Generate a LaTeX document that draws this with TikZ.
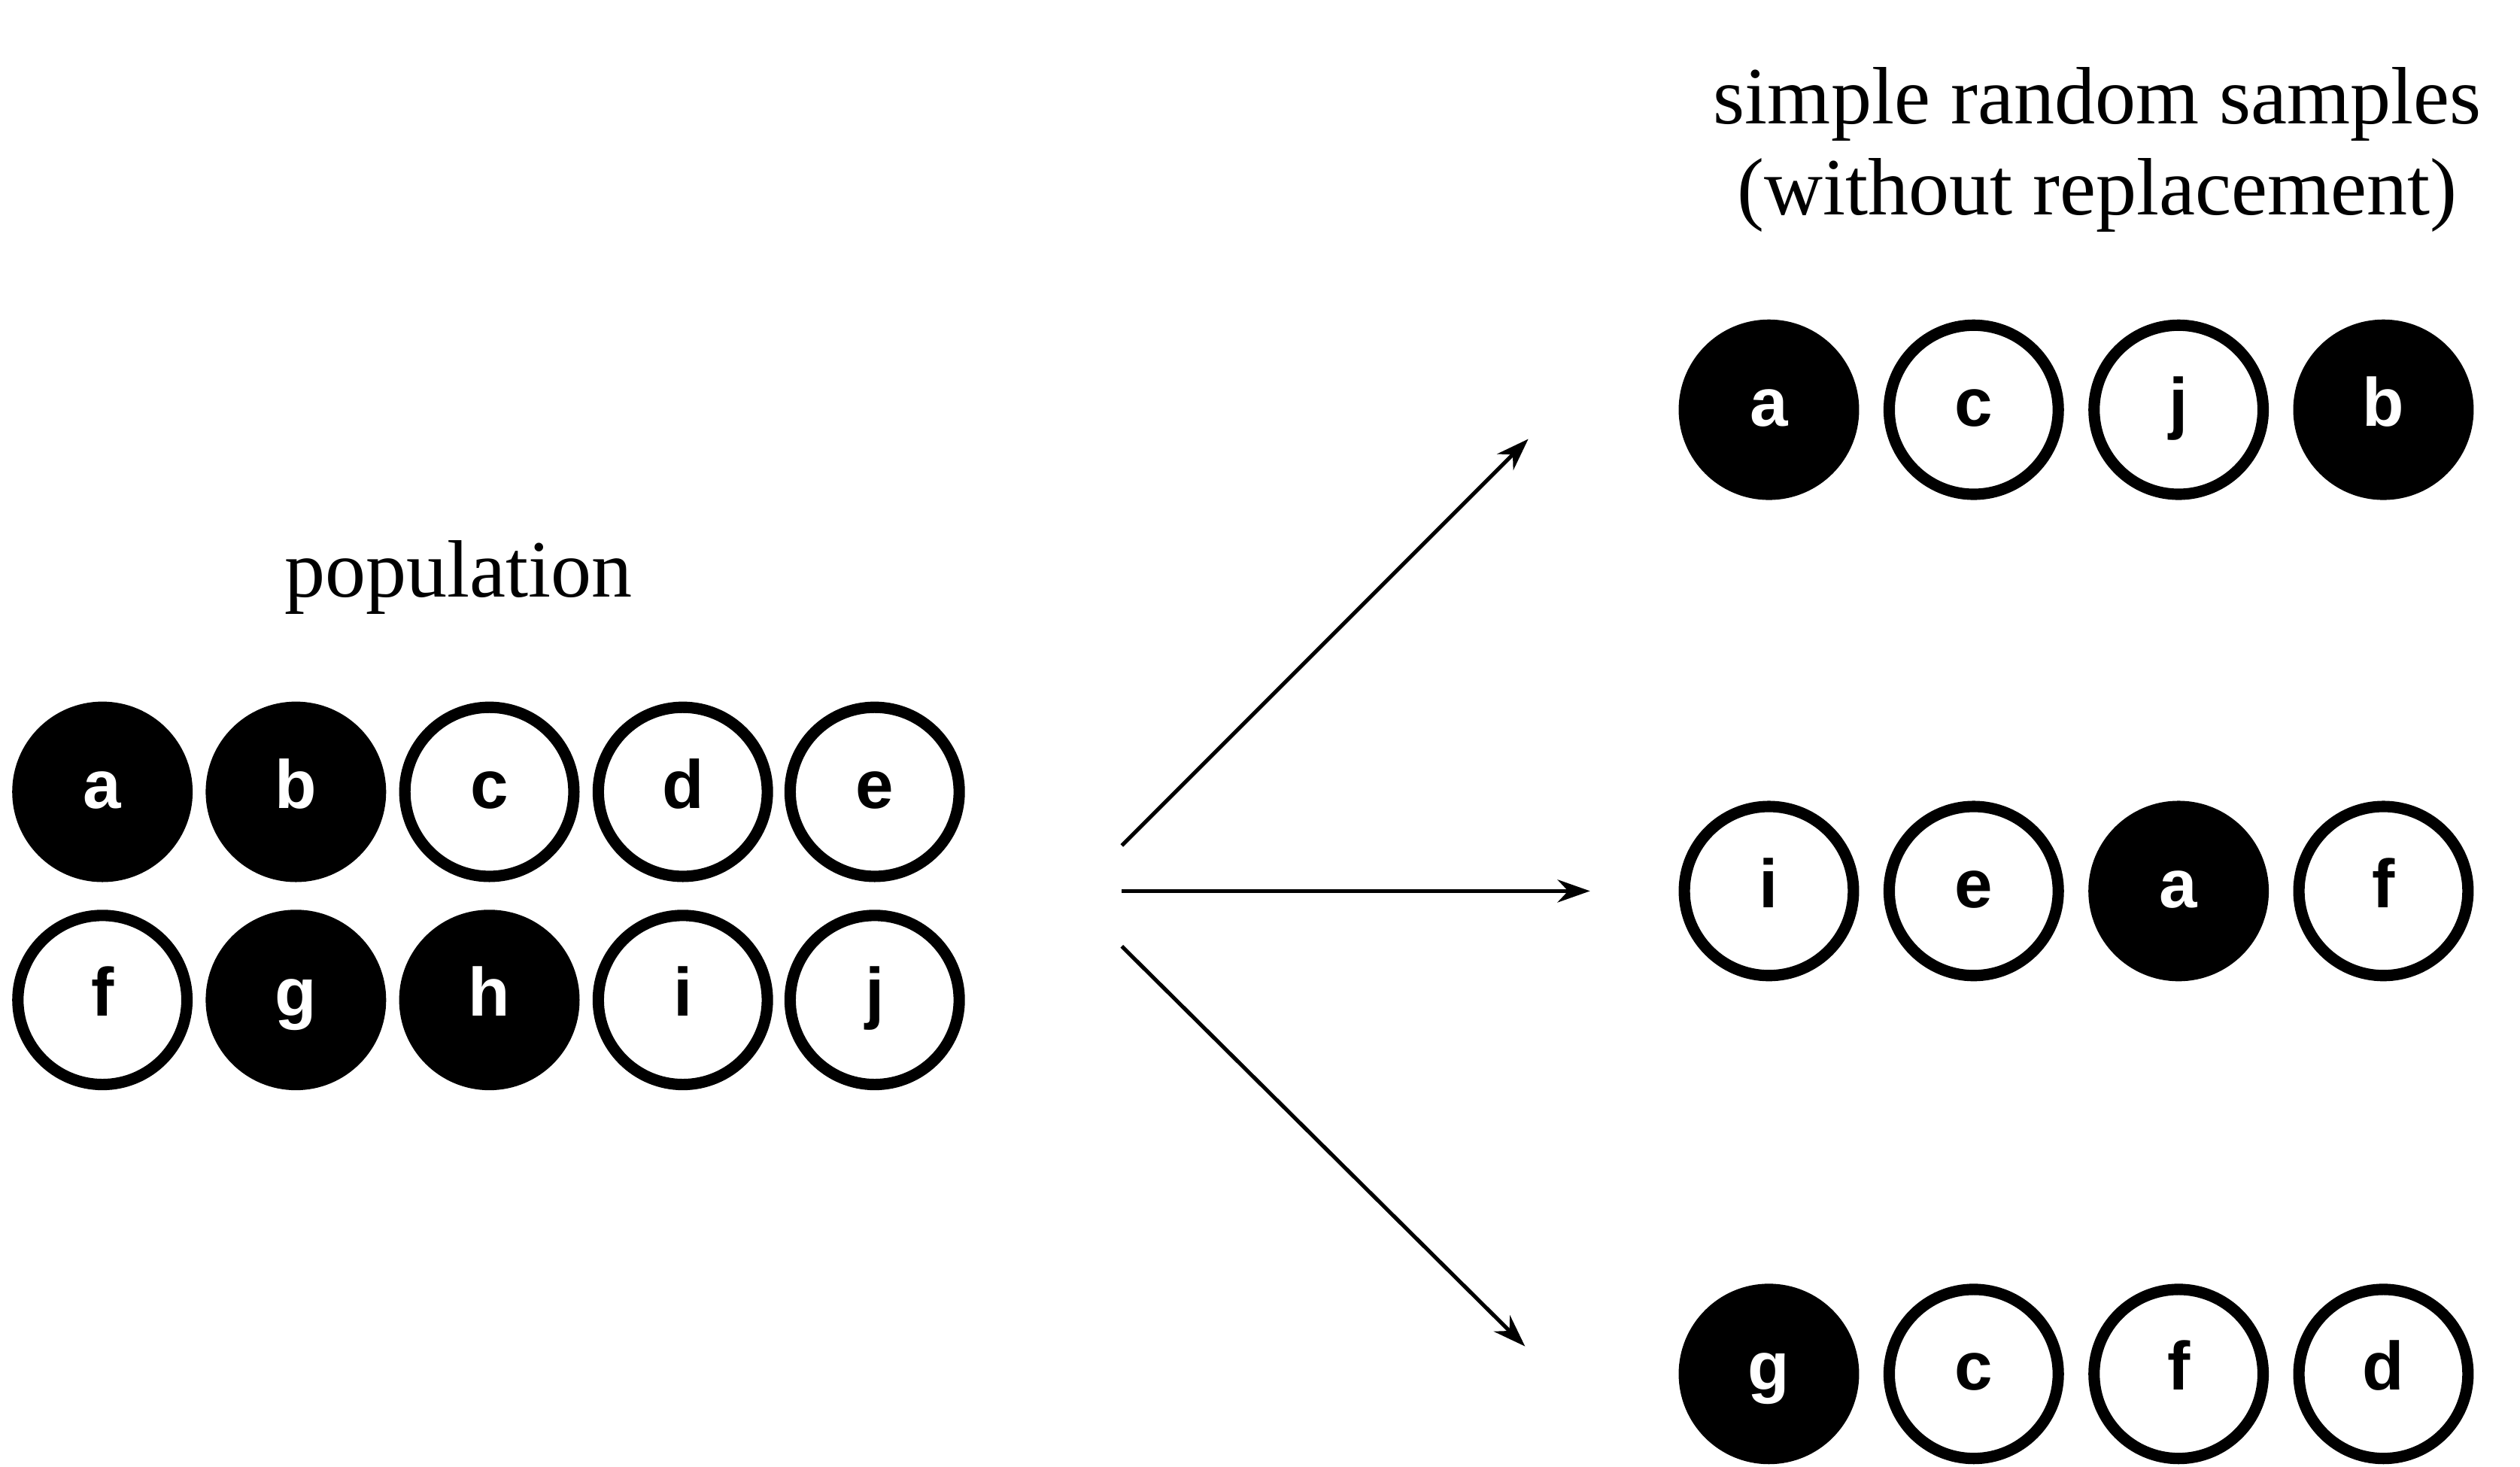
\documentclass[tikz,border=0pt]{standalone}
\usepackage{fontspec}
\setmainfont{Liberation Serif}
\newfontfamily\ballfont{Liberation Sans}
\usetikzlibrary{arrows.meta}
\begin{document}
\begin{tikzpicture}[x=1pt,y=-1pt,
  ball/.style={circle,draw=black,line width=7pt,minimum size=104pt,inner sep=0pt,text height=29pt,text depth=9pt,font=\ballfont\bfseries\fontsize{42}{44}\selectfont},
  full/.style={ball,fill=black,text=white},
  empty/.style={ball,fill=white,text=black},
  arr/.style={line width=2.4pt,-{Stealth[length=20pt,width=14pt]}},
  lab/.style={font=\fontsize{50}{56}\selectfont,align=center}]
\useasboundingbox (0,0) rectangle (1550,902);
\node[lab] (pop) at (282,355) {population};
\node[lab] (title) at (1290,92) {simple random samples\\(without replacement)};
\node[full] (pa) at (63,487) {a};
\node[full] (pb) at (182,487) {b};
\node[empty] (pc) at (301,487) {c};
\node[empty] (pd) at (420,487) {d};
\node[empty] (pe) at (538,487) {e};
\node[empty] (pf) at (63,615) {f};
\node[full] (pg) at (182,615) {g};
\node[full] (ph) at (301,615) {h};
\node[empty] (pi) at (420,615) {i};
\node[empty] (pj) at (538,615) {j};
\node[full] (s1a) at (1088,252) {a};
\node[empty] (s1b) at (1214,252) {c};
\node[empty] (s1c) at (1340,252) {j};
\node[full] (s1d) at (1466,252) {b};
\node[empty] (s2a) at (1088,548) {i};
\node[empty] (s2b) at (1214,548) {e};
\node[full] (s2c) at (1340,548) {a};
\node[empty] (s2d) at (1466,548) {f};
\node[full] (s3a) at (1088,845) {g};
\node[empty] (s3b) at (1214,845) {c};
\node[empty] (s3c) at (1340,845) {f};
\node[empty] (s3d) at (1466,845) {d};
\coordinate (o1) at (690,520); \coordinate (e1) at (940,270);
\coordinate (o2) at (690,548); \coordinate (e2) at (978,548);
\coordinate (o3) at (690,582); \coordinate (e3) at (938,828);
\draw[arr] (o1) -- (e1);
\draw[arr] (o2) -- (e2);
\draw[arr] (o3) -- (e3);
\end{tikzpicture}
\end{document}
